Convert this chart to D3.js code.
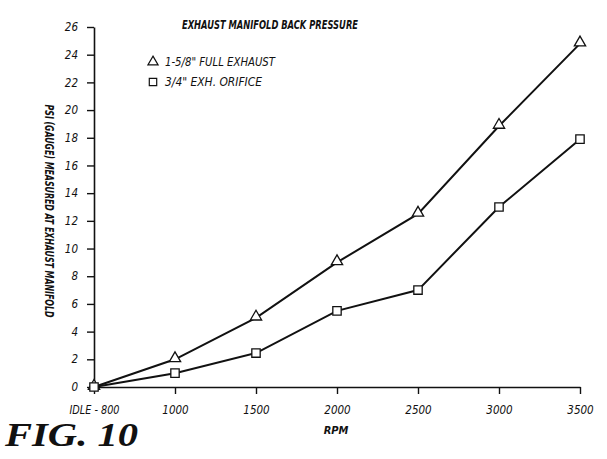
<!DOCTYPE html>
<html>
<head>
<meta charset="utf-8">
<script src="https://cdn.jsdelivr.net/npm/d3@7"></script>
<style>
  body { margin: 0; background: #fff; }
  svg text { font-family: "DejaVu Sans Condensed", "Liberation Sans Narrow", sans-serif; font-style: italic; fill: #111; }
  .fig { font-family: "Liberation Serif", serif; font-weight: bold; }
</style>
</head>
<body>
<svg id="chart" width="607" height="459"></svg>
<script>
const rpmLabels = ['IDLE - 800', '1000', '1500', '2000', '2500', '3000', '3500'];
const fullExhaust = [0, 2, 5, 9, 12.5, 18.85, 24.8];
const orifice = [0, 1, 2.45, 5.5, 7, 13, 17.9];
const yTicks = [0, 2, 4, 6, 8, 10, 12, 14, 16, 18, 20, 22, 24, 26];

const svg = d3.select('#chart');

const x = d3.scalePoint().domain(rpmLabels).range([94, 580]);
const y = d3.scaleLinear().domain([0, 26]).range([387, 27]);

// axes
const xAxis = svg.append('g')
  .attr('transform', 'translate(0,387)')
  .call(d3.axisBottom(x).tickSize(7).tickSizeOuter(0).tickPadding(10));
const yAxis = svg.append('g')
  .attr('transform', 'translate(94,0)')
  .call(d3.axisLeft(y).tickValues(yTicks).tickSize(7).tickSizeOuter(0).tickPadding(9));

[xAxis, yAxis].forEach(a => {
  a.select('.domain').attr('stroke', '#111').attr('stroke-width', 1.6);
  a.selectAll('.tick line').attr('stroke', '#111').attr('stroke-width', 1.4);
  a.selectAll('.tick text').style('font-size', '11.5px').style('font-family', '"DejaVu Sans Condensed", sans-serif').style('font-style', 'italic').attr('fill', '#111');
});
xAxis.selectAll('.tick text').attr('dy', '0.85em');
xAxis.selectAll('.tick text').filter(d => d === 'IDLE - 800')
  .attr('textLength', 50).attr('lengthAdjust', 'spacingAndGlyphs');

// lines
const line = d3.line()
  .x((d, i) => x(rpmLabels[i]))
  .y(d => y(d));

[fullExhaust, orifice].forEach(s => {
  svg.append('path')
    .datum(s)
    .attr('fill', 'none')
    .attr('stroke', '#111')
    .attr('stroke-width', 2)
    .attr('d', line);
});

// markers
const tri = d3.symbol().type(d3.symbolTriangle).size(55);
const sq = d3.symbol().type(d3.symbolSquare).size(70);

svg.selectAll('.tri')
  .data(fullExhaust)
  .enter()
  .append('path')
  .attr('class', 'tri')
  .attr('d', tri)
  .attr('transform', (d, i) => `translate(${x(rpmLabels[i])},${y(d) - 1})`)
  .attr('fill', '#fff')
  .attr('stroke', '#111')
  .attr('stroke-width', 1.3);

svg.selectAll('.sq')
  .data(orifice)
  .enter()
  .append('path')
  .attr('class', 'sq')
  .attr('d', sq)
  .attr('transform', (d, i) => `translate(${x(rpmLabels[i])},${y(d)})`)
  .attr('fill', '#fff')
  .attr('stroke', '#111')
  .attr('stroke-width', 1.3);

// title
svg.append('text')
  .attr('x', 182)
  .attr('y', 29)
  .attr('textLength', 176)
  .attr('lengthAdjust', 'spacingAndGlyphs')
  .style('font-size', '12px')
  .style('font-weight', 'bold')
  .text('EXHAUST MANIFOLD BACK PRESSURE');

// legend
const legend = svg.append('g');
legend.append('path')
  .attr('d', d3.symbol().type(d3.symbolTriangle).size(45))
  .attr('transform', 'translate(153,62)')
  .attr('fill', '#fff').attr('stroke', '#111').attr('stroke-width', 1.2);
legend.append('text')
  .attr('x', 165).attr('y', 66)
  .attr('textLength', 110)
  .attr('lengthAdjust', 'spacingAndGlyphs')
  .style('font-size', '11.5px')
  .text('1-5/8" FULL EXHAUST');
legend.append('path')
  .attr('d', d3.symbol().type(d3.symbolSquare).size(55))
  .attr('transform', 'translate(153,82)')
  .attr('fill', '#fff').attr('stroke', '#111').attr('stroke-width', 1.2);
legend.append('text')
  .attr('x', 165).attr('y', 86)
  .attr('textLength', 97)
  .attr('lengthAdjust', 'spacingAndGlyphs')
  .style('font-size', '11.5px')
  .text('3/4" EXH. ORIFICE');

// axis titles
svg.append('text')
  .attr('x', 336).attr('y', 434)
  .attr('text-anchor', 'middle')
  .style('font-size', '11px')
  .style('font-weight', 'bold')
  .text('RPM');

svg.append('text')
  .attr('transform', 'translate(45,211) rotate(90)')
  .attr('text-anchor', 'middle')
  .attr('textLength', 213)
  .attr('lengthAdjust', 'spacingAndGlyphs')
  .style('font-size', '11.5px')
  .style('font-weight', 'bold')
  .text('PSI (GAUGE) MEASURED AT EXHAUST MANIFOLD');

// figure caption
svg.append('text')
  .attr('class', 'fig')
  .attr('x', 5).attr('y', 446)
  .attr('textLength', 133)
  .attr('lengthAdjust', 'spacingAndGlyphs')
  .style('font-size', '34px')
  .text('FIG. 10');
</script>
</body>
</html>
